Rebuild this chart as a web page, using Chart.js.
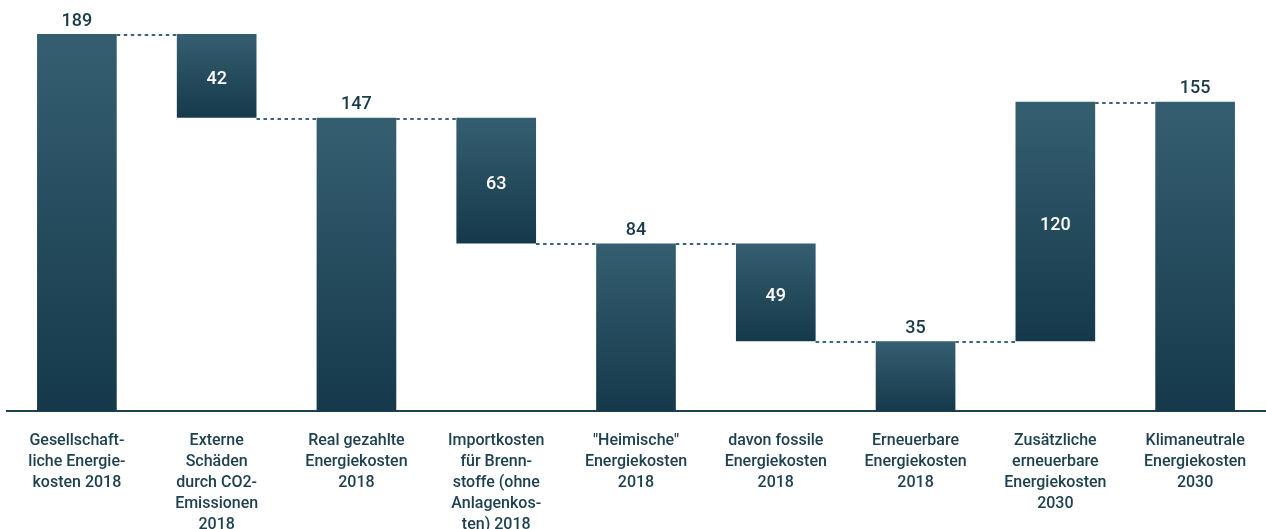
<!DOCTYPE html>
<html>
<head>
<meta charset="utf-8">
<script src="https://cdn.jsdelivr.net/npm/chart.js@4"></script>
<style>
  html, body { margin: 0; padding: 0; background: #fff; }
  #wrap { width: 1266px; height: 529px; position: relative; }
</style>
</head>
<body>
<div id="wrap"><canvas id="waterfall"></canvas></div>
<script>
// Categories (multi-line labels as shown under the axis)
const categories = [
  ["Gesellschaft-", "liche Energie-", "kosten 2018"],
  ["Externe", "Schäden", "durch CO2-", "Emissionen", "2018"],
  ["Real gezahlte", "Energiekosten", "2018"],
  ["Importkosten", "für Brenn-", "stoffe (ohne", "Anlagenkos-", "ten) 2018"],
  ['"Heimische"', "Energiekosten", "2018"],
  ["davon fossile", "Energiekosten", "2018"],
  ["Erneuerbare", "Energiekosten", "2018"],
  ["Zusätzliche", "erneuerbare", "Energiekosten", "2030"],
  ["Klimaneutrale", "Energiekosten", "2030"]
]

// Values: totals are absolute, deltas are changes
const values = [189, -42, 147, -63, 84, -49, 35, 120, 155]
const isTotal = [true, false, true, false, true, false, true, false, true]

// Build floating ranges for the waterfall
const ranges = []
const levels = []
let running = 0
values.forEach((v, i) => {
  if (isTotal[i]) {
    ranges.push([0, v])
    running = v
  } else {
    const next = running + v
    ranges.push([Math.min(running, next), Math.max(running, next)])
    running = next
  }
  levels.push(running)
})

const textColor = "#1e4150"
const fontFamily = "Roboto, 'Noto Sans', sans-serif"

// Draw dashed connectors and the value labels
const waterfallPlugin = {
  id: "waterfallExtras",
  afterDatasetsDraw(chart) {
    const { ctx } = chart
    const meta = chart.getDatasetMeta(0)
    const y = chart.scales.y

    ctx.save()
    ctx.strokeStyle = "#3b6577"
    ctx.lineWidth = 2
    ctx.setLineDash([3.5, 3.5])
    for (let i = 0; i < meta.data.length - 1; i++) {
      const a = meta.data[i]
      const b = meta.data[i + 1]
      const py = Math.round(y.getPixelForValue(levels[i])) + 1
      ctx.beginPath()
      ctx.moveTo(a.x + a.width / 2, py)
      ctx.lineTo(b.x - b.width / 2, py)
      ctx.stroke()
    }
    ctx.restore()

    ctx.save()
    ctx.textAlign = "center"
    ctx.textBaseline = "middle"
    ctx.font = "500 18px " + fontFamily
    meta.data.forEach((bar, i) => {
      const r = ranges[i]
      if (isTotal[i]) {
        ctx.fillStyle = "#1a3a48"
        ctx.fillText(String(values[i]), bar.x, y.getPixelForValue(r[1]) - 13)
      } else {
        ctx.fillStyle = "#ffffff"
        const mid = (y.getPixelForValue(r[0]) + y.getPixelForValue(r[1])) / 2
        ctx.fillText(String(Math.abs(values[i])), bar.x, mid + 4)
      }
    })
    ctx.restore()
  }
}

new Chart(document.getElementById("waterfall"), {
  type: "bar",
  data: {
    labels: categories,
    datasets: [
      {
        data: ranges,
        backgroundColor: (c) => {
          const chart = c.chart
          const y = chart.scales.y
          if (!y || !c.raw) return "#264d5e"
          const top = y.getPixelForValue(c.raw[1])
          const bottom = y.getPixelForValue(c.raw[0])
          if (!isFinite(top) || !isFinite(bottom)) return "#264d5e"
          const g = chart.ctx.createLinearGradient(0, top, 0, bottom)
          g.addColorStop(0, "#355f71")
          g.addColorStop(1, "#15394a")
          return g
        },
        borderWidth: 0,
        categoryPercentage: 1,
        barPercentage: 0.57,
        borderSkipped: false
      }
    ]
  },
  options: {
    responsive: true,
    maintainAspectRatio: false,
    animation: false,
    layout: { padding: { top: 34, left: 7, right: 1, bottom: 0 } },
    plugins: {
      legend: { display: false },
      tooltip: { enabled: false }
    },
    scales: {
      x: {
        grid: { display: false },
        border: { display: true, color: "#1d3f4e", width: 2 },
        ticks: {
          color: textColor,
          font: { family: fontFamily, size: 16, weight: 500, lineHeight: 1.3 },
          padding: 12,
          maxRotation: 0,
          autoSkip: false
        },
        afterFit: (s) => { s.height = 118 }
      },
      y: {
        display: false,
        min: 0,
        max: 189
      }
    }
  },
  plugins: [waterfallPlugin]
})
</script>
</body>
</html>
